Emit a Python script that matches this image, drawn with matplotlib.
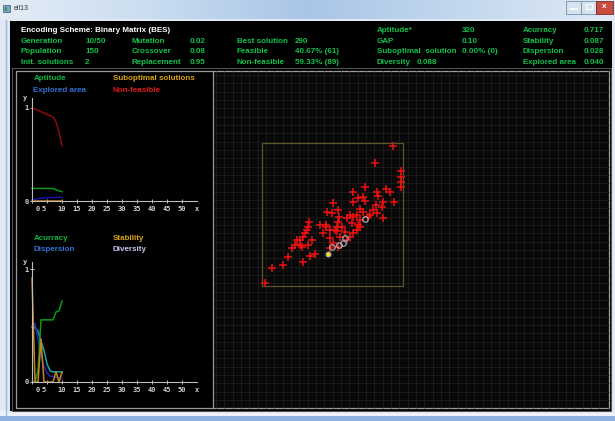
import matplotlib
matplotlib.use('Agg')
import matplotlib.pyplot as plt
import numpy as np
from matplotlib.patches import Rectangle
from matplotlib.colors import LinearSegmentedColormap

plt.rcParams['font.family'] = ['Liberation Sans', 'DejaVu Sans']

# ---------------- data ----------------
header_title = 'Encoding Scheme: Binary Matrix (BES)'
col1_labels = ['Generation', 'Population', 'Init. solutions']
col1_values = ['10/50', '150', '2']
col2_labels = ['Mutation', 'Crossover', 'Replacement']
col2_values = ['0.02', '0.08', '0.95']
col3_labels = ['Best solution', 'Feasible', 'Non-feasible']
col3_values = ['290', '40.67% (61)', '59.33% (89)']
col4_labels = ['Aptitude*', 'GAP', 'Suboptimal  solution', 'Diversity']
col4_values = ['320', '0.10', '0.00% (0)', '0.088']
col5_labels = ['Acurracy', 'Stability', 'Dispersion', 'Explored area']
col5_values = ['0.717', '0.087', '0.028', '0.040']

generations = [0, 1, 2, 3, 4, 5, 6, 7, 8, 9, 10]
aptitude = [0.135, 0.135, 0.135, 0.135, 0.135, 0.135, 0.135, 0.135, 0.12, 0.11, 0.10]
explored_area = [0.012, 0.02, 0.025, 0.03, 0.033, 0.035, 0.037, 0.038, 0.039, 0.04, 0.04]
suboptimal = [0, 0, 0, 0, 0, 0, 0, 0, 0, 0, 0]
non_feasible = [1.0, 0.99, 0.975, 0.96, 0.945, 0.93, 0.92, 0.905, 0.85, 0.74, 0.593]

accuracy = [0.0, 0.0, 0.1, 0.55, 0.55, 0.55, 0.55, 0.55, 0.62, 0.63, 0.717]
stability = [0.92, 0.0, 0.0, 0.38, 0.0, 0.0, 0.0, 0.0, 0.09, 0.0, 0.087]
diversity = [0.49, 0.48, 0.45, 0.36, 0.28, 0.16, 0.10, 0.09, 0.09, 0.09, 0.088]
dispersion = [0.48, 0.52, 0.38, 0.24, 0.14, 0.08, 0.05, 0.05, 0.04, 0.04, 0.028]

xtick_values = [0, 5, 10, 15, 20, 25, 30, 35, 40, 45, 50]
xtick_labels = ['0', '5', '10', '15', '20', '25', '30', '35', '40', '45', '50']

pop_x = [92.9, 79.9, 98.2, 98.2, 98.2, 98.2, 93.4, 87.7, 90.6, 81.1, 82.3, 72.8, 71.6, 72.8,
         64.5, 64.5, 68.1, 85.8, 84.7, 80.6, 78.3, 81.1, 85.4, 76.4, 71.6, 69.3, 67.0, 64.5,
         62.2, 59.9, 63.4, 69.3, 68.1, 67.0, 64.5, 62.2, 59.9, 53.9, 54.6, 53.9, 49.9, 46.1,
         49.2, 52.8, 56.3, 51.6, 48.0, 50.4, 53.9, 45.2, 45.2, 40.9, 48.0, 33.3, 32.6, 31.5,
         30.3, 29.1, 26.7, 24.4, 23.2, 20.9, 27.9, 35.0, 32.6, 37.4, 33.8, 29.1, 18.4, 14.5,
         6.7, 1.9, 42.8, 55.1, 58.7, 69.3, 75.2, 48.0, 53.2, 26.7]
pop_y = [98.1, 86.0, 80.8, 76.5, 73.0, 69.5, 59.0, 67.7, 66.0, 66.0, 63.2, 69.1, 62.5, 59.7,
         65.6, 59.0, 61.4, 59.0, 55.5, 56.7, 53.2, 50.8, 47.8, 49.6, 52.0, 53.7, 49.6, 48.0,
         49.6, 47.3, 43.8, 46.1, 42.6, 39.1, 36.8, 34.4, 32.1, 53.2, 48.5, 44.9, 57.9, 52.0,
         50.8, 41.4, 41.4, 39.1, 33.3, 29.8, 27.4, 42.6, 41.4, 42.6, 39.1, 44.9, 41.4, 39.1,
         36.8, 34.0, 32.1, 32.1, 28.6, 26.3, 27.4, 32.1, 28.6, 22.3, 20.9, 16.9, 20.4, 14.5,
         12.2, 2.1, 36.8, 34.0, 37.9, 41.4, 48.0, 26.3, 38.6, 28.6]
elite_x = [49.2, 54.6, 57.4, 58.7, 72.8]
elite_y = [27.0, 28.6, 30.2, 33.3, 46.8]
best_x = [46.6]
best_y = [22.3]
explored_box = [0.0, 100.0, 0.0, 100.0]

# ---------------- figure ----------------
W, H = 615, 421
fig = plt.figure(figsize=(W / 100, H / 100), dpi=100)
fig.patch.set_facecolor('#dfe8f3')

bg = fig.add_axes([0, 0, 1, 1])
bg.set_xlim(0, W)
bg.set_ylim(H, 0)
bg.axis('off')


def pax(x0, y0, x1, y1):
    return fig.add_axes([x0 / W, 1 - y1 / H, (x1 - x0) / W, (y1 - y0) / H])


# window chrome
cm = LinearSegmentedColormap.from_list('tb', ['#e4edf7', '#c9dcf0', '#a9c5e6', '#c3d8ee', '#dfeaf6'])
bg.imshow(np.linspace(0, 1, 256)[None, :], extent=[0, W, 19, 0], aspect='auto', cmap=cm, zorder=0)
bg.add_patch(Rectangle((3, 5), 7, 7, facecolor='#7aa0c8', edgecolor='#405a78', lw=0.5))
bg.add_patch(Rectangle((4.5, 6.5), 2, 4, facecolor='#30a040', lw=0))
bg.text(13.5, 9, 'eil13', fontsize=5, color='#303030', va='center')
bg.add_patch(Rectangle((566, 0.5), 15, 13, facecolor='#d6e2f0', edgecolor='#7890a8', lw=0.6))
bg.add_patch(Rectangle((581, 0.5), 15, 13, facecolor='#d6e2f0', edgecolor='#7890a8', lw=0.6))
bg.add_patch(Rectangle((596, 0.5), 17, 13, facecolor='#c94a3e', edgecolor='#7a2a22', lw=0.6))
bg.plot([570, 577], [9, 9], color='#ffffff', lw=1.2)
bg.add_patch(Rectangle((585.5, 4), 6, 5, facecolor='none', edgecolor='#ffffff', lw=0.9))
bg.text(604.5, 7, 'x', fontsize=6, color='white', ha='center', va='center', fontweight='bold')
bg.add_patch(Rectangle((0, 411), W, 5, facecolor='#eef2f8', lw=0))
bg.add_patch(Rectangle((0, 416), W, 5, facecolor='#8db1df', lw=0))
bg.plot([5.5, 5.5], [20, 416], color='#9db9dc', lw=1)

# client area
bg.add_patch(Rectangle((9.5, 20.5), 602, 390.5, facecolor='black', lw=0))
bg.add_patch(Rectangle((12, 67.5), 598.5, 343, facecolor='none', edgecolor='#505050', lw=0.8))
bg.add_patch(Rectangle((213, 71), 396, 337, facecolor='#080808', lw=0))
gx = np.arange(216, 609, 8.33)
gy = np.arange(75, 408, 8.33)
bg.vlines(gx, 71, 408, color='#1d1d1d', lw=0.6)
bg.hlines(gy, 213, 609, color='#1d1d1d', lw=0.6)
bg.add_patch(Rectangle((15.5, 70.5), 593.5, 337.5, facecolor='none', edgecolor='#9a9a9a', lw=0.9))
bg.plot([212.5, 212.5], [70.5, 408], color='#9a9a9a', lw=0.9)

# header text
green = '#14c04c'
fs = 5.8
fw = 'bold'
row_y = [41.7, 51.7, 62.7]
bg.text(20.7, 30.7, header_title, color='white', fontsize=fs, fontweight=fw, va='center')
for i in range(3):
    bg.text(20.7, row_y[i], col1_labels[i], color=green, fontsize=fs, fontweight=fw, va='center')
    bg.text(85, row_y[i], col1_values[i], color=green, fontsize=fs, fontweight=fw, va='center')
    bg.text(132, row_y[i], col2_labels[i], color=green, fontsize=fs, fontweight=fw, va='center')
    bg.text(190, row_y[i], col2_values[i], color=green, fontsize=fs, fontweight=fw, va='center')
    bg.text(236.7, row_y[i], col3_labels[i], color=green, fontsize=fs, fontweight=fw, va='center')
    bg.text(294.7, row_y[i], col3_values[i], color=green, fontsize=fs, fontweight=fw, va='center')
r4_y = [30.7, 41.7, 51.7, 62.7]
r4_vx = [461.7, 461.7, 462.3, None]
for i in range(4):
    lab = bg.text(376.7, r4_y[i], col4_labels[i], color=green, fontsize=fs, fontweight=fw,
                  va='center')
    if r4_vx[i] is not None:
        bg.text(r4_vx[i], r4_y[i], col4_values[i], color=green, fontsize=fs, fontweight=fw,
                va='center')
    else:
        bg.annotate(col4_values[i], xy=(1, 0.5), xycoords=lab, xytext=(4, 0),
                    textcoords='offset points', color=green, fontsize=fs, fontweight=fw,
                    va='center')
    bg.text(522.7, r4_y[i], col5_labels[i], color=green, fontsize=fs, fontweight=fw, va='center')
    bg.text(604, r4_y[i], col5_values[i], color=green, fontsize=fs, fontweight=fw, va='center',
            ha='right')

# legends of the line plots
c_green_t, c_orange_t, c_blue_t, c_red_t, c_lav_t = '#12b040', '#d8a418', '#2f70d2', '#e01818', '#c4c8ec'
bg.text(33.3, 78.3, 'Aptitude', color=c_green_t, fontsize=fs, fontweight=fw, va='center')
bg.text(112.7, 78.3, 'Suboptimal solutions', color=c_orange_t, fontsize=fs, fontweight=fw, va='center')
bg.text(33.3, 90, 'Explored area', color=c_blue_t, fontsize=fs, fontweight=fw, va='center')
bg.text(112.7, 90, 'Non-feasible', color=c_red_t, fontsize=fs, fontweight=fw, va='center')
bg.text(33.3, 238.3, 'Acurracy', color=c_green_t, fontsize=fs, fontweight=fw, va='center')
bg.text(112.7, 238.3, 'Stability', color=c_orange_t, fontsize=fs, fontweight=fw, va='center')
bg.text(33.3, 249.3, 'Dispersion', color=c_blue_t, fontsize=fs, fontweight=fw, va='center')
bg.text(112.7, 249.3, 'Diversity', color=c_lav_t, fontsize=fs, fontweight=fw, va='center')


def line_axes(y0px, y1px, ymax):
    ax = pax(32, y0px, 197, y1px)
    ax.set_facecolor('none')
    ax.set_xlim(0, 55)
    ax.set_ylim(0, ymax)
    for s in ['top', 'right']:
        ax.spines[s].set_visible(False)
    for s in ['left', 'bottom']:
        ax.spines[s].set_color('#bdbdbd')
        ax.spines[s].set_linewidth(0.8)
    ax.set_yticks([0, 1])
    ax.set_yticklabels(['0', '1'])
    ax.set_xticks(xtick_values)
    ax.set_xticklabels([])
    ax.tick_params(axis='y', colors='#d8d8d8', length=3, direction='inout', width=0.7,
                   labelsize=5, pad=1)
    ax.tick_params(axis='x', colors='#bdbdbd', length=2.5, direction='inout', width=0.7)
    for lab in ax.get_yticklabels():
        lab.set_fontfamily('DejaVu Sans Mono')
        lab.set_fontweight('bold')
    ppu = (y1px - y0px) / ymax
    ylab = -8 / ppu
    lab_x = [1.9, 3.8] + xtick_values[2:]
    for xv, t in zip(lab_x, xtick_labels):
        ax.text(xv, ylab, t, fontsize=5, color='#d0d0d0', ha='center', va='center',
                family='DejaVu Sans Mono', fontweight='bold', clip_on=False)
    ax.text(55, ylab, 'x', fontsize=5, color='#d0d0d0', ha='center', va='center',
            family='DejaVu Sans Mono', fontweight='bold', clip_on=False)
    ax.text(-2.3, ymax, 'y', fontsize=5, color='#d0d0d0', ha='center', va='center',
            family='DejaVu Sans Mono', fontweight='bold', clip_on=False)
    return ax


lw = 1.1
ax1 = line_axes(98, 201, 103 / 93)
ax1.plot(generations, non_feasible, color='#8e0a0a', lw=lw, clip_on=False)
ax1.plot(generations, aptitude, color='#0a9a1a', lw=lw, clip_on=False)
ax1.plot(generations, explored_area, color='#1414a8', lw=lw, clip_on=False)
ax1.plot(generations, suboptimal, color='#c8841a', lw=lw, clip_on=False)

ax2 = line_axes(262, 382, 120 / 113)
ax2.plot(generations, diversity, color='#14a4b4', lw=lw, clip_on=False)
ax2.plot(generations, dispersion, color='#2424b8', lw=lw, clip_on=False)
ax2.plot(generations, accuracy, color='#0a9a1a', lw=lw, clip_on=False)
ax2.plot(generations, stability, color='#c8841a', lw=lw, clip_on=False)

# scatter of the population
ax3 = pax(213, 71, 609, 408)
ax3.set_facecolor('none')
ax3.axis('off')
ax3.set_xlim((213 - 262.3) / 1.41, (609 - 262.3) / 1.41)
ax3.set_ylim((285.7 - 408) / 1.424, (285.7 - 71) / 1.424)
bx0, bx1, by0, by1 = explored_box
ax3.add_patch(Rectangle((bx0, by0), bx1 - bx0, by1 - by0, facecolor='none',
                        edgecolor='#5a5628', lw=0.9))
ax3.plot(pop_x, pop_y, linestyle='none', marker='+', markersize=6, mew=1.1, color='#f01010')
ax3.plot(elite_x, elite_y, linestyle='none', marker='o', markersize=4, mew=0.9,
         markerfacecolor='none', markeredgecolor='#a8a8a8')
ax3.plot(best_x, best_y, linestyle='none', marker='o', markersize=3.5, mew=0.8,
         markerfacecolor='#f0e020', markeredgecolor='#a8a8a8')

fig.savefig('out.png', dpi=100, facecolor=fig.get_facecolor())
